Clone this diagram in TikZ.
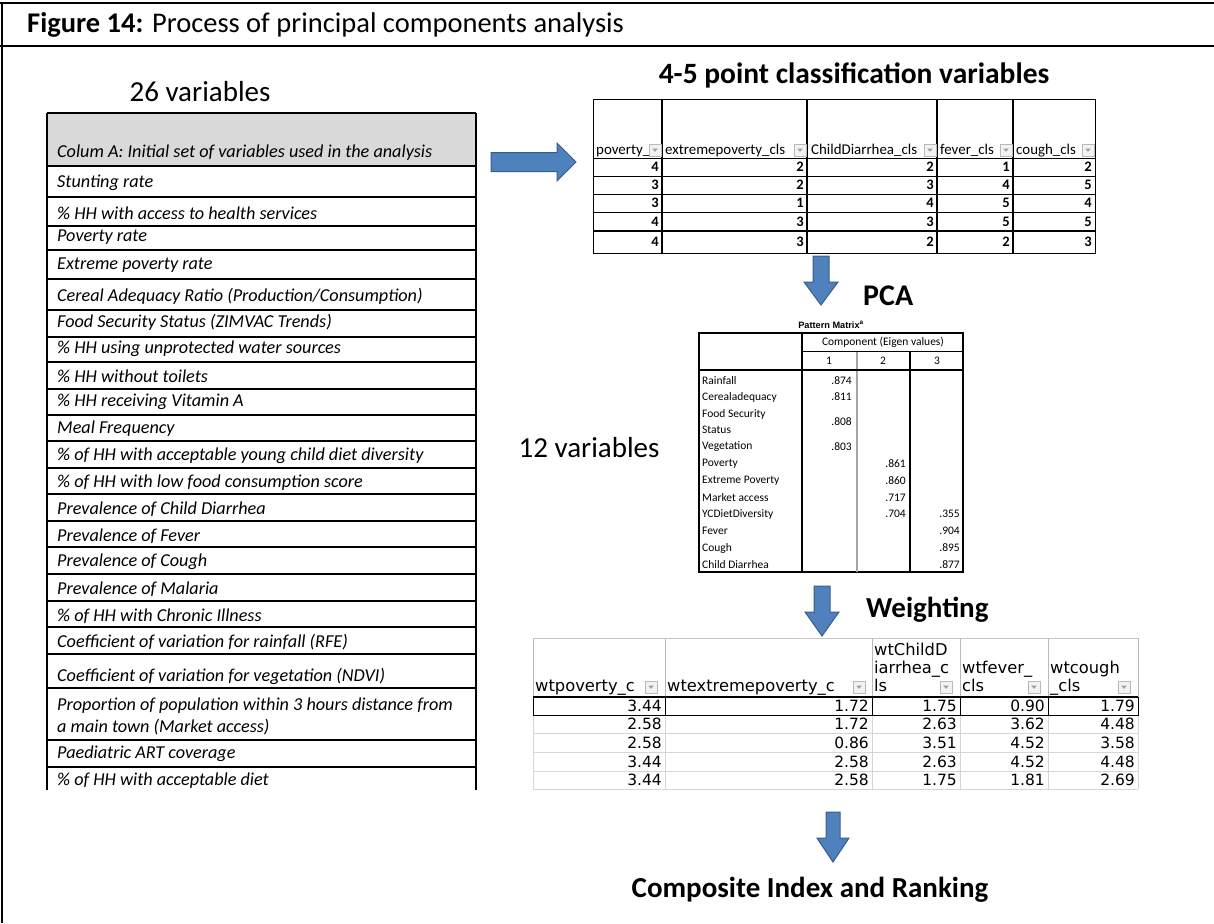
\documentclass[tikz,border=0pt]{standalone}
\usepackage{fontspec}
\setmainfont{Carlito}
\newfontfamily\dvsans{DejaVu Sans}
\newfontfamily\lsans{Liberation Sans}
\usepackage{tikz}
\usetikzlibrary{positioning}

\definecolor{arrowfill}{RGB}{79,129,189}
\definecolor{arrowedge}{RGB}{56,93,138}
\definecolor{headgray}{RGB}{217,217,217}
\definecolor{gridgray}{RGB}{214,214,214}

\newcommand{\fsz}[1]{\fontsize{#1}{#1}\selectfont}
% little filter button of a spreadsheet header
\newcommand{\filterbtn}[2]{%
  \draw[gray!55, fill=gray!10, line width=0.6] (#1-6,#2-6) rectangle (#1+6,#2+6);
  \fill[gray!75] (#1-2.8,#2-1.4) -- (#1+2.8,#2-1.4) -- (#1,#2+1.8) -- cycle;}

\begin{document}
\begin{tikzpicture}[x=1pt, y=-1pt,
    blockarrow/.style={fill=arrowfill, draw=arrowedge, line width=1},
    varlabel/.style={anchor=west, font=\itshape\fsz{18.2}},
    hdrcell/.style={anchor=base west, font=\fsz{14.9}},
    numcell/.style={anchor=east, font=\bfseries\fsz{14.5}},
    pmlabel/.style={anchor=west, font=\fsz{11.5}},
    pmnum/.style={anchor=east, font=\fsz{11.5}},
    wthdr/.style={anchor=base west, align=left, font=\dvsans\fontsize{16.3}{17.8}\selectfont},
    wtnum/.style={anchor=east, font=\dvsans\fsz{15.5}}]
    \tikzstyle{every node}+=[inner sep=0pt]
    \useasboundingbox (0,0) rectangle (1214,923);

    % frame and caption
    \draw [line width=2] (0,3) -- (1214,3);
    \draw [line width=2] (0,46) -- (1214,46);
    \draw [line width=2] (2,3) -- (2,923);
    \node [anchor=base west, font=\fsz{28.5}] (caption) at (27,33)
      {\textbf{Figure 14:} Process of principal components analysis};

    % left table: initial variables
    \node [font=\fsz{29}] (twentysix) at (200,92) {26 variables};
    \fill [headgray] (47,113) rectangle (476,166);
    \foreach \y in {113,166,197,226,250,279,310,337,362,389,415,441,468,494,521,547,574,601,627,654,688,740,767}
      \draw [line width=1.4] (47,\y) -- (476,\y);
    \draw [line width=1.4] (47,113) -- (47,790) (476,113) -- (476,790);
    \node [varlabel] (colA) at (57,153) {Colum A: Initial set of variables used in the analysis};
    \foreach \y/\t [count=\i] in {183/Stunting rate,
        213/\% HH with access to health services,
        237/Poverty rate,
        265/Extreme poverty rate,
        296/{Cereal Adequacy Ratio (Production/Consumption)},
        322/Food Security Status (ZIMVAC Trends),
        349/\% HH using unprotected water sources,
        376/\% HH without toilets,
        402/\% HH receiving Vitamin A,
        429/Meal Frequency,
        456/\% of HH with acceptable young child diet diversity,
        483/\% of HH with low food consumption score,
        509/Prevalence of Child Diarrhea,
        536/Prevalence of Fever,
        562/Prevalence of Cough,
        589/Prevalence of Malaria,
        616/\% of HH with Chronic Illness,
        642/Coefficient of variation for rainfall (RFE),
        676/Coefficient of variation for vegetation (NDVI)}
      \node [varlabel] (var\i) at (57,\y) {\t};
    \node [varlabel, align=left, font=\itshape\fontsize{18.2}{22}\selectfont] (var20) at (57,716)
      {Proportion of population within 3 hours distance from\\a main town (Market access)};
    \node [varlabel] (var21) at (57,754) {Paediatric ART coverage};
    \node [varlabel] (var22) at (57,781) {\% of HH with acceptable diet};

    % arrow to the classified table
    \filldraw [blockarrow] (491,152.5) -- (557,152.5) -- (557,143) -- (576,162)
      -- (557,181) -- (557,171.5) -- (491,171.5) -- cycle;

    % classified variables
    \node [font=\bfseries\fsz{29.5}] (clstitle) at (854,75) {4-5 point classification variables};
    \draw [line width=1] (593,100) rectangle (1095,253);
    \foreach \x in {662,807,937,1013}
      \draw [line width=1.3] (\x,100) -- (\x,253);
    \foreach \y in {158,176,194,212}
      \draw [line width=1] (593,\y) -- (1095,\y);
    \draw [line width=1.6] (593,231) -- (1095,231);
    \node [hdrcell] (hpov) at (596,154) {poverty\_};
    \node [hdrcell] (hext) at (665,154) {extremepoverty\_cls};
    \node [hdrcell] (hchd) at (811,154) {ChildDiarrhea\_cls};
    \node [hdrcell] (hfev) at (940,154) {fever\_cls};
    \node [hdrcell] (hcou) at (1016,154) {cough\_cls};
    \foreach \x in {655,800,930,1006,1088} {\filterbtn{\x}{150}}
    \foreach \y/\a/\b/\c/\d/\e [count=\r] in {167/4/2/2/1/2, 185/3/2/3/4/5,
        203/3/1/4/5/4, 221.5/4/3/3/5/5, 242/4/3/2/2/3} {
      \node [numcell] (c\r a) at (659,\y) {\a};
      \node [numcell] (c\r b) at (804,\y) {\b};
      \node [numcell] (c\r c) at (934,\y) {\c};
      \node [numcell] (c\r d) at (1010,\y) {\d};
      \node [numcell] (c\r e) at (1092,\y) {\e};
    }

    % PCA step
    \filldraw [blockarrow] (813,256) -- (829,256) -- (829,282) -- (838,282)
      -- (821,305) -- (804,282) -- (813,282) -- cycle;
    \node [anchor=west, font=\bfseries\fsz{30}] (pca) at (863,296) {PCA};
    \node [font=\lsans\bfseries\fsz{9.2}] (pmtitle) at (831,325) {Pattern Matrix\textsuperscript{a}};
    \draw [line width=1.5] (699,333) rectangle (963,572);
    \draw [line width=1.5] (802,333) -- (802,572);
    \draw [line width=1.5] (910,351) -- (910,572);
    \draw [gray!70, line width=1.3] (857,351) -- (857,572);
    \draw [line width=1] (802,351) -- (963,351);
    \draw [line width=1.5] (699,370) -- (963,370);
    \node [font=\fsz{11.5}] (pmcomp) at (883,342) {Component (Eigen values)};
    \node [font=\fsz{11.5}] (pmone) at (829,361) {1};
    \node [font=\fsz{11.5}] (pmtwo) at (883,361) {2};
    \node [font=\fsz{11.5}] (pmthree) at (937,361) {3};
    \foreach \y/\t [count=\i] in {381/Rainfall, 397/Cerealadequacy, 414/Food Security,
        430/Status, 447/Vegetation, 464/Poverty, 481/Extreme Poverty, 498/Market access,
        514/YCDietDiversity, 531/Fever, 548/Cough, 565/Child Diarrhea}
      \node [pmlabel] (pml\i) at (702,\y) {\t};
    \foreach \y/\t [count=\i] in {381/.874, 397/.811, 422/.808, 447/.803}
      \node [pmnum] (pmo\i) at (852,\y) {\t};
    \foreach \y/\t [count=\i] in {464/.861, 481/.860, 498/.717, 514/.704}
      \node [pmnum] (pmt\i) at (906,\y) {\t};
    \foreach \y/\t [count=\i] in {514/.355, 531/.904, 548/.895, 565/.877}
      \node [pmnum] (pmh\i) at (960,\y) {\t};
    \node [font=\fsz{29}] (twelve) at (589,448) {12 variables};

    % weighting step
    \filldraw [blockarrow] (814,586) -- (830,586) -- (830,612) -- (839,612)
      -- (822,636) -- (805,612) -- (814,612) -- cycle;
    \node [anchor=west, font=\bfseries\fsz{29}] (wtg) at (866,610) {Weighting};
    \foreach \x in {533,665,872,960,1048,1138}
      \draw [gray!55, line width=0.8] (\x,638) -- (\x,697);
    \draw [gray!45, line width=0.8] (533,638) -- (1138,638);
    \foreach \y in {733,752,771,789}
      \draw [gridgray, line width=0.8] (533,\y) -- (1138,\y);
    \foreach \x in {533,665,872,960,1048,1138}
      \draw [gridgray, line width=0.8] (\x,715) -- (\x,789);
    \foreach \x in {665,872,960,1048}
      \draw [line width=0.8] (\x,697) -- (\x,715);
    \draw [line width=1] (533,697) rectangle (1138,715);
    \draw [line width=1.6] (533,697) -- (1138,697);
    \node [wthdr] (wh1) at (535,691) {wtpoverty\_c};
    \node [wthdr] (wh2) at (667,691) {wtextremepoverty\_c};
    \node [wthdr] (wh3) at (874,691) {wtChildD\\iarrhea\_c\\ls};
    \node [wthdr] (wh4) at (962,691) {wtfever\_\\cls};
    \node [wthdr] (wh5) at (1050,691) {wtcough\\\_cls};
    \foreach \x in {651,859,946,1034,1124} {\filterbtn{\x}{687}}
    \foreach \y/\a/\b/\c/\d/\e [count=\r] in {706/3.44/1.72/1.75/0.90/1.79,
        724/2.58/1.72/2.63/3.62/4.48, 742.5/2.58/0.86/3.51/4.52/3.58,
        761.5/3.44/2.58/2.63/4.52/4.48, 780/3.44/2.58/1.75/1.81/2.69} {
      \node [wtnum] (w\r a) at (662,\y) {\a};
      \node [wtnum] (w\r b) at (869,\y) {\b};
      \node [wtnum] (w\r c) at (957,\y) {\c};
      \node [wtnum] (w\r d) at (1045,\y) {\d};
      \node [wtnum] (w\r e) at (1135,\y) {\e};
    }

    % final step
    \filldraw [blockarrow] (826,812) -- (840,812) -- (840,838) -- (849,838)
      -- (833,862) -- (817,838) -- (826,838) -- cycle;
    \node [font=\bfseries\fsz{29}] (composite) at (810,890) {Composite Index and Ranking};
\end{tikzpicture}
\end{document}
